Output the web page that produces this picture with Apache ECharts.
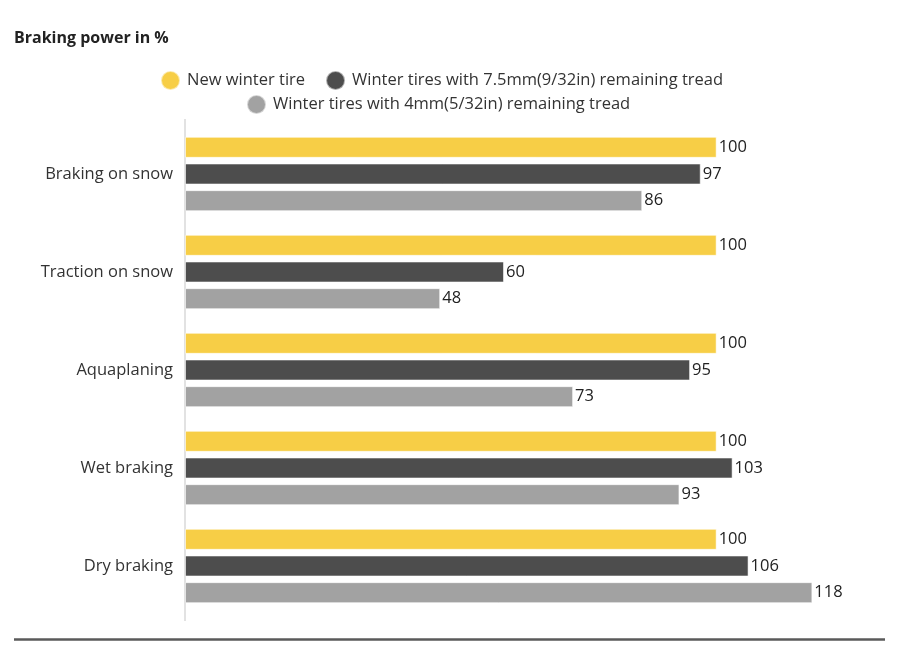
<!DOCTYPE html>
<html>
<head>
<meta charset="utf-8">
<script src="https://cdn.jsdelivr.net/npm/echarts@6/dist/echarts.min.js"></script>
<style>html,body{margin:0;padding:0;background:#fff}#c{width:900px;height:658px}</style>
</head>
<body>
<div id="c"></div>
<script>
const categories = ['Braking on snow', 'Traction on snow', 'Aquaplaning', 'Wet braking', 'Dry braking'];
const seriesNames = ['New winter tire', 'Winter tires with 7.5mm(9/32in) remaining tread', 'Winter tires with 4mm(5/32in) remaining tread'];
const newTire = [100, 100, 100, 100, 100];
const tread75 = [97, 60, 95, 103, 106];
const tread4 = [86, 48, 73, 93, 118];
const colors = ['#F7CE46', '#4D4D4D', '#A2A2A2'];

const FONT = '"Open Sans", "Noto Sans", sans-serif';
const FS = 16.5;
const chart = echarts.init(document.getElementById('c'), null, {renderer: 'canvas'});

function mk(name, data, color) {
  return {
    name, type: 'bar', data,
    barWidth: 21, barGap: '27%',
    itemStyle: {color, borderColor: 'rgba(255,255,255,0.55)', borderWidth: 1},
    label: {show: true, position: 'right', distance: 2, color: '#222', fontSize: FS, fontFamily: FONT},
    emphasis: {disabled: true}
  };
}

chart.setOption({
  animation: false,
  title: {text: 'Braking power in %', left: 9, top: 25,
    textStyle: {fontSize: 16, fontWeight: 'bold', color: '#222', fontFamily: FONT}},
  legend: [
    {data: [seriesNames[0], seriesNames[1]], left: 155, top: 65, icon: 'circle',
      itemWidth: 19, itemHeight: 19, itemGap: 20, selectedMode: false,
      textStyle: {fontSize: FS, color: '#333', fontFamily: FONT, padding: [0, 0, 0, 2]}},
    {data: [seriesNames[2]], left: 241, top: 89, icon: 'circle',
      itemWidth: 19, itemHeight: 19, selectedMode: false,
      textStyle: {fontSize: FS, color: '#333', fontFamily: FONT, padding: [0, 0, 0, 2]}}
  ],
  grid: {left: 185, top: 125, width: 638, height: 490, containLabel: false},
  xAxis: {type: 'value', min: 0, max: 120, show: false},
  yAxis: {type: 'category', data: categories, inverse: true,
    axisLine: {show: false}, axisTick: {show: false},
    axisLabel: {fontSize: FS, color: '#333', fontFamily: FONT, margin: 12}},
  graphic: [
    {type: 'line', shape: {x1: 185, y1: 119, x2: 185, y2: 621}, style: {stroke: '#e2e2e2', lineWidth: 2}, z: 0},
    {type: 'line', shape: {x1: 14, y1: 639.5, x2: 885, y2: 639.5}, style: {stroke: '#5a5a5a', lineWidth: 2.5}}
  ],
  series: [mk(seriesNames[0], newTire, colors[0]), mk(seriesNames[1], tread75, colors[1]), mk(seriesNames[2], tread4, colors[2])]
});
</script>
</body>
</html>
